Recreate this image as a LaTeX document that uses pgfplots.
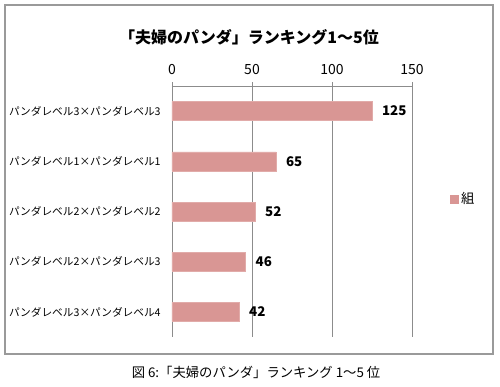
\documentclass[border=0pt]{standalone}
\usepackage{pgfplots}
\pgfplotsset{compat=1.18}
\usepackage{fontspec}
\setmainfont{Noto Sans CJK JP}
\definecolor{barc}{HTML}{D99694}
\definecolor{gridc}{HTML}{8C8C8C}
\definecolor{framec}{HTML}{9A9A9A}
\begin{document}
\begin{tikzpicture}
\path (0pt,0pt) rectangle (375pt,289.5pt);
\draw[framec, line width=0.8pt] (3.75pt,24pt) rectangle (369.75pt,285.75pt);
\node[font=\bfseries\fontsize{12}{14}\selectfont] at (186.75pt,261.75pt) {「夫婦のパンダ」ランキング1〜5位};
\node[font=\fontsize{10}{12}\selectfont] at (192pt,10.5pt) {図 6:「夫婦のパンダ」ランキング 1〜5 位};
\begin{axis}[
  at={(129pt,36.75pt)}, anchor=south west,
  scale only axis, width=180pt, height=188.25pt,
  xmin=0, xmax=150, ymin=0.5, ymax=5.5,
  y dir=reverse,
  axis x line*=top, axis y line*=left,
  axis line style={gridc, line width=0.6pt},
  x axis line style={-}, y axis line style={-},
  xtick={0,50,100,150},
  xmajorgrids, grid style={gridc, line width=0.6pt},
  tick align=outside,
  major tick length=3pt,
  tick style={gridc, line width=0.6pt},
  ytick={1,2,3,4,5},
  yticklabels={パンダレベル3×パンダレベル3,パンダレベル1×パンダレベル1,パンダレベル2×パンダレベル2,パンダレベル2×パンダレベル3,パンダレベル3×パンダレベル4},
  minor ytick={0.5,1.5,2.5,3.5,4.5,5.5},
  ytick style={draw=none},
  minor tick style={draw=gridc, line width=0.6pt},
  minor tick length=3pt,
  yticklabel style={font=\fontsize{8}{10}\selectfont, xshift=-2pt},
  xticklabel style={font=\fontsize{10.5}{12}\selectfont, yshift=2pt},
  /pgf/number format/assume math mode=true,
  xbar, bar width=14.25pt,
  nodes near coords,
  every node near coord/.append style={font=\bfseries\fontsize{10}{12}\selectfont, xshift=4pt, black},
  legend style={at={(1.14,0.55)}, anchor=west, draw=none, fill=none, font=\fontsize{10}{12}\selectfont},
  legend image code/.code={\fill[barc] (0pt,-3pt) rectangle (6pt,3pt);},
  clip=false,
]
\addplot[fill=barc, draw=barc!80!white] coordinates {(125,1) (65,2) (52,3) (46,4) (42,5)};
\addlegendentry{組}
\end{axis}
\end{tikzpicture}
\end{document}
